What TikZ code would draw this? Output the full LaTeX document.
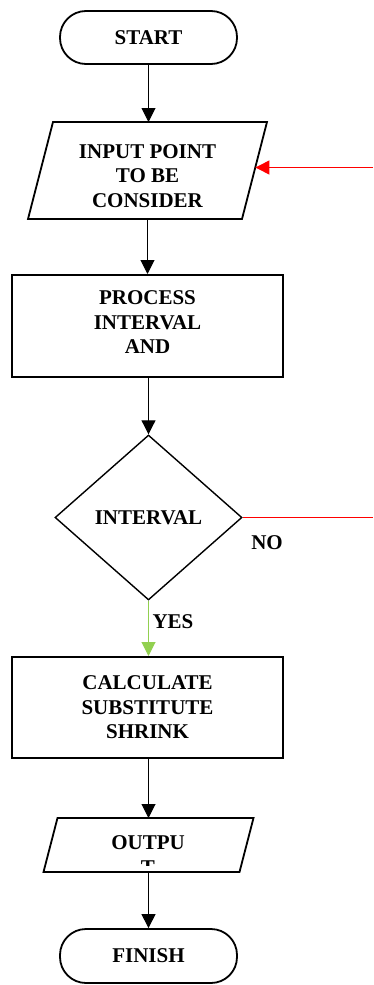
\documentclass[tikz,border=0pt]{standalone}
\usepackage{fontspec}
\setmainfont{Liberation Serif}
\usetikzlibrary{arrows.meta,shapes.geometric,calc}
\definecolor{yesgreen}{HTML}{92D050}
\tikzset{
  lbl/.style={font=\bfseries\fontsize{21}{24.5}\selectfont, align=center, inner sep=0pt},
  term/.style={draw, line width=1.8pt, rectangle, rounded corners=26pt, minimum width=177pt, minimum height=53pt, inner sep=0pt, font=\bfseries\fontsize{21}{24.5}\selectfont},
  procbox/.style={draw, line width=2pt, rectangle, minimum width=271pt, minimum height=101pt, inner sep=0pt},
  iobound/.style={rectangle, inner sep=0pt, outer sep=0pt},
  ioline/.style={draw, line width=1.8pt, line join=miter},
  decbox/.style={draw, line width=1.4pt, diamond, minimum width=187pt, minimum height=165pt, inner sep=0pt, font=\bfseries\fontsize{21}{24.5}\selectfont},
  arr/.style={line width=1pt, -{Triangle[length=14pt,width=14pt]}},
  redarr/.style={line width=1pt, draw=red, -{Triangle[length=14pt,width=14pt, fill=red]}},
  greenarr/.style={line width=1pt, draw=yesgreen, -{Triangle[length=14pt,width=14pt, fill=yesgreen]}},
}
\begin{document}
\begin{tikzpicture}[x=1pt,y=-1pt]
\useasboundingbox (0,0) rectangle (373,985);
% nodes
\node[term] (start) at (148.5,37.5) {START};
\node[iobound, minimum width=239pt, minimum height=97pt] (inp) at (147.5,170.5) {};
\draw[ioline] (inp.south west) -- ([xshift=25pt]inp.north west) -- (inp.north east) -- ([xshift=-25pt]inp.south east) -- cycle;
\node[lbl] (inpt) at (147.5,176) {INPUT POINT\\TO BE\\CONSIDER};
\node[procbox, minimum height=102pt] (proc) at (147.5,326) {};
\node[lbl] (proct) at (147.5,322.5) {PROCESS\\INTERVAL\\AND};
\node[decbox] (dec) at (148.5,517.5) {INTERVAL};
\node[lbl] (no) at (267,543) {NO};
\node[lbl] (yes) at (173,622) {YES};
\node[procbox] (calc) at (147.5,707.5) {};
\node[lbl] (calct) at (147.5,707.5) {CALCULATE\\SUBSTITUTE\\SHRINK};
\node[iobound, minimum width=210pt, minimum height=54pt] (out) at (148.5,845) {};
\draw[ioline] (out.south west) -- ([xshift=14pt]out.north west) -- (out.north east) -- ([xshift=-14pt]out.south east) -- cycle;
\node[lbl] (outt) at (148,843) {OUTPU};
\begin{scope}
  \clip (43,855) rectangle (253,865);
  \node[lbl] (outt2) at (148,867.5) {T};
\end{scope}
\node[term, minimum height=54pt] (finish) at (148.5,956) {FINISH};
\coordinate (redin) at (373,167.5);
\coordinate (inpr) at ($(inp.north east)!0.464!([xshift=-25pt]inp.south east)$);
\coordinate (noend) at (373,517.5);
% connectors
\draw[arr] (start.south) -- (start.south |- inp.north);
\draw[arr] (proc.north |- inp.south) -- (proc.north);
\draw[arr] (proc.south -| dec.north) -- (dec.north);
\draw[greenarr] (dec.south) -- (dec.south |- calc.north);
\draw[arr] (calc.south -| out.center) -- (out.center |- out.north);
\draw[arr] (finish.north |- out.south) -- (finish.north);
\draw[redarr] (redin) -- (redin -| inpr);
\draw[line width=1pt, red] (dec.east) -- (noend);
\end{tikzpicture}
\end{document}
